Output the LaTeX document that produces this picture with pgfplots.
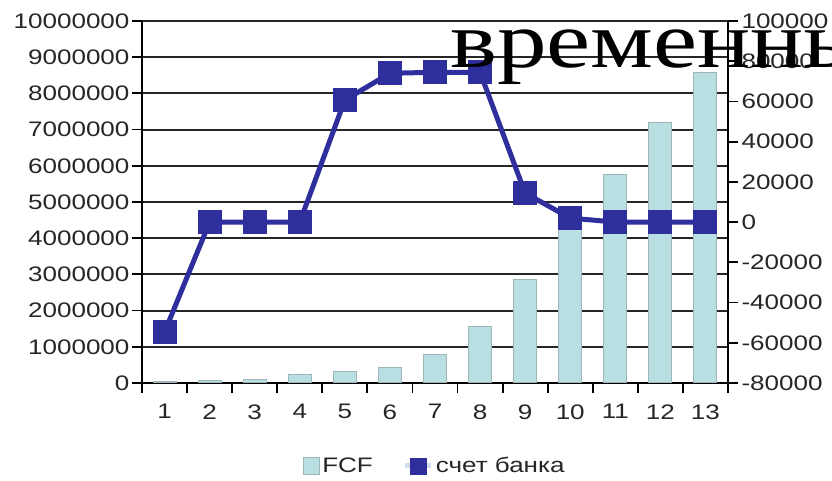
\documentclass[border=0pt]{standalone}
\usepackage{fontspec}
\setmainfont{Liberation Sans}[FakeStretch=1.24]
\newfontfamily\titlefont{Liberation Serif}[FakeStretch=1.24]
\usepackage{pgfplots}
\pgfplotsset{compat=1.18}
\usepackage{pgfplotstable}

\definecolor{barfill}{HTML}{B8E0E3}
\definecolor{baredge}{HTML}{9FB5B8}
\definecolor{linecol}{HTML}{2E2E9C}
\definecolor{gridcol}{HTML}{262626}

% free cash flow by period
\pgfplotstableread{
n fcf
1 30000
2 60000
3 110000
4 230000
5 310000
6 430000
7 790000
8 1550000
9 2870000
10 4300000
11 5750000
12 7190000
13 8580000
}\fcf

% bank account balance by period
\pgfplotstableread{
n acc
1 -54700
2 0
3 0
4 0
5 60700
6 74000
7 74500
8 74500
9 14400
10 2000
11 0
12 0
13 0
}\acc

\begin{document}
\begin{tikzpicture}
\path[use as bounding box] (0,0) rectangle (832bp,481bp);
\pgfplotsset{
  every axis/.append style={
    scale only axis, width=586bp, height=362bp,
    at={(142bp,98bp)}, anchor=south west,
    xmin=0.5, xmax=13.5,
    font=\fontsize{21bp}{25bp}\selectfont,
    tick label style={text=black!85},
    /pgf/number format/.cd, fixed, 1000 sep={}, assume math mode=true,
  },
}
\begin{axis}[
  ymin=0, ymax=10000000,
  ytick distance=1000000,
  scaled y ticks=false,
  axis y line*=left,
  axis x line*=bottom,
  axis line style={black, line width=1.8bp, -},
  ymajorgrids,
  grid style={gridcol, line width=1.9bp},
  xtick={1,...,13},
  minor xtick={0.5,1.5,...,13.5},
  major x tick style={draw=none},
  minor x tick style={black, line width=1.8bp},
  minor tick length=10bp,
  major y tick style={black, line width=1.8bp},
  major tick length=10bp,
  tick align=outside,
  xticklabel style={yshift=-8bp},
  yticklabel style={xshift=1bp},
]
\addplot[ybar, bar width=23bp, fill=barfill, draw=baredge, line width=1bp]
  table[x=n, y=fcf] {\fcf};
\end{axis}

\begin{axis}[
  ymin=-80000, ymax=100000,
  ytick distance=20000,
  scaled y ticks=false,
  axis y line*=right,
  axis x line=none,
  axis line style={black, line width=1.8bp, -},
  major y tick style={black, line width=1.8bp},
  major tick length=10bp,
  tick align=outside,
  clip=false,
  legend columns=2,
  legend style={at={(0.5,-0.229)}, anchor=center, draw=none, fill=none,
    font=\fontsize{21bp}{25bp}\selectfont, text=black!85,
    /tikz/every even column/.append style={column sep=28bp}},
  legend image code/.code={},
]
\addlegendimage{legend image code/.code={
  \draw[baredge, fill=barfill, line width=0.8bp] (0bp,-8bp) rectangle (16bp,8bp);}}
\addlegendentry{FCF}
\addlegendimage{legend image code/.code={
  \draw[barfill!70!linecol!40, line width=5bp] (0bp,0bp) -- (26bp,0bp);
  \fill[linecol] (5bp,-8bp) rectangle (21bp,8bp);}}
\addlegendentry{счет банка}
\addplot[linecol, line width=5bp, mark=square*, mark size=11.5bp,
  mark options={fill=linecol, draw=linecol, line width=0bp}]
  table[x=n, y=acc] {\acc};
\end{axis}

\begin{scope}
\clip (0,0) rectangle (832bp,481bp);
\node[anchor=base west, inner sep=0pt, font=\titlefont\fontsize{80bp}{90bp}\selectfont]
  at (450bp,413bp) {временны};
\end{scope}
\end{tikzpicture}
\end{document}
